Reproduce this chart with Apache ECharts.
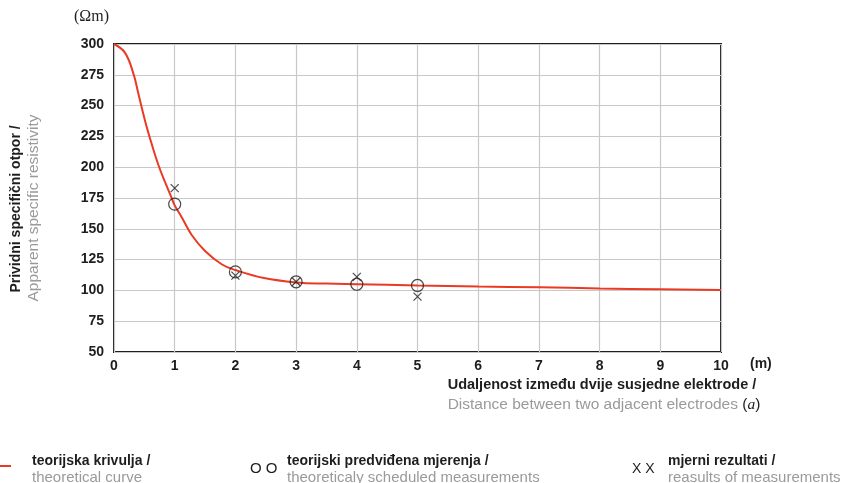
<!DOCTYPE html>
<html>
<head>
<meta charset="utf-8">
<script src="https://cdn.jsdelivr.net/npm/echarts@6/dist/echarts.min.js"></script>
<style>
	html, body { margin: 0; padding: 0; background: #fff; }
	#chart { width: 844px; height: 483px; }
</style>
</head>
<body>
<div id="chart"></div>
<script>
// teorijska krivulja
var curveX = [0, 0.18, 0.32, 0.4, 0.51, 0.62, 0.73, 0.84, 0.95, 1.0, 1.12, 1.28, 1.5, 1.78, 2, 2.47, 3, 3.5, 4, 5, 6, 7, 8, 9, 10];
var curveY = [300, 293, 276, 260, 238, 219, 202, 188, 175, 169, 159, 145, 132, 121, 116.5, 110, 106.5, 105.5, 105, 104, 103.2, 102.5, 101.6, 100.9, 100.3];

// mjerenja
var pointX = [1, 2, 3, 4, 5];
var plannedY = [170, 115, 107, 105, 104];
var measuredY = [183, 112, 107, 111, 95];

var xTicks = ['0', '1', '2', '3', '4', '5', '6', '7', '8', '9', '10'];
var yTicks = ['50', '75', '100', '125', '150', '175', '200', '225', '250', '275', '300'];

function pairs(xs, ys) {
	return xs.map(function (x, i) { return [x, ys[i]]; });
}

var font = '"Liberation Sans", Arial, sans-serif';
var red = '#ea3a24';
var gray = '#9a9a9a';
var ink = '#1e1e1e';

var myChart = echarts.init(document.getElementById('chart'));
option = {
	animation: false,
	grid: {
		left: 114,
		right: 123,
		top: 44,
		bottom: 131,
		show: true,
		borderColor: ink,
		borderWidth: 2
	},
	xAxis: {
		type: 'value',
		min: 0,
		max: 10,
		interval: 1,
		axisLine: { show: false },
		axisTick: { show: false },
		axisLabel: {
			margin: 7,
			fontFamily: font,
			fontSize: 14,
			fontWeight: 'bold',
			color: ink,
			formatter: function (v) { return xTicks[v]; }
		},
		splitLine: { lineStyle: { color: '#c8c8c8', width: 1.2 } }
	},
	yAxis: {
		type: 'value',
		min: 50,
		max: 300,
		interval: 25,
		axisLine: { show: false },
		axisTick: { show: false },
		axisLabel: {
			margin: 10,
			fontFamily: font,
			fontSize: 14,
			fontWeight: 'bold',
			color: ink,
			formatter: function (v) { return yTicks[(v - 50) / 25]; }
		},
		splitLine: { lineStyle: { color: '#c8c8c8', width: 1.2 } }
	},
	series: [{
		name: 'teorijska krivulja',
		type: 'line',
		data: pairs(curveX, curveY),
		smooth: 0.4,
		showSymbol: false,
		lineStyle: { color: red, width: 2 },
		z: 3
	}, {
		name: 'teorijski predviđena mjerenja',
		type: 'scatter',
		data: pairs(pointX, plannedY),
		symbol: 'circle',
		symbolSize: 12,
		itemStyle: { color: 'transparent', borderColor: ink, borderWidth: 1.2 },
		z: 4
	}, {
		name: 'mjerni rezultati',
		type: 'scatter',
		data: pairs(pointX, measuredY),
		symbol: 'path://M0,0L10,10M10,0L0,10',
		symbolSize: 8,
		itemStyle: { color: 'transparent', borderColor: ink, borderWidth: 1.2 },
		z: 5
	}],
	graphic: [
		{ type: 'text', left: 74, top: 9, style: { text: '(Ωm)', font: '16px "Liberation Serif", serif', fill: ink } },
		{ type: 'text', left: 750, top: 357, style: { text: '(m)', font: 'bold 14px ' + font, fill: ink } },
		{
			type: 'text', x: 9, y: 209, rotation: Math.PI / 2,
			style: {
				text: 'Prividni specifični otpor /', font: 'bold 14px ' + font, fill: ink,
				align: 'center', verticalAlign: 'top'
			}
		},
		{
			type: 'text', x: 26, y: 208, rotation: Math.PI / 2,
			style: {
				text: 'Apparent specific resistivity', font: '15.5px ' + font, fill: gray,
				align: 'center', verticalAlign: 'top'
			}
		},
		{
			type: 'text', x: 602, y: 385,
			style: {
				text: 'Udaljenost između dvije susjedne elektrode /', font: 'bold 14.5px ' + font, fill: ink,
				align: 'center', verticalAlign: 'middle'
			}
		},
		{
			type: 'text', x: 604, y: 405,
			style: {
				text: '{g|Distance between two adjacent electrodes }{b|(}{i|a}{b|)}',
				align: 'center', verticalAlign: 'middle',
				rich: {
					g: { font: '15.5px ' + font, fill: gray },
					b: { font: '15.5px ' + font, fill: ink },
					i: { font: 'italic 15.5px "Liberation Serif", serif', fill: ink }
				}
			}
		},
		// legend
		{ type: 'line', shape: { x1: 0, y1: 466, x2: 11, y2: 466 }, style: { stroke: red, lineWidth: 2 } },
		{ type: 'text', left: 32, top: 454, style: { text: 'teorijska krivulja /', font: 'bold 14px ' + font, fill: ink } },
		{ type: 'text', left: 32, top: 470, style: { text: 'theoretical curve', font: '15px ' + font, fill: gray } },
		{ type: 'text', left: 250, top: 461, style: { text: 'O O', font: '15px ' + font, fill: ink } },
		{ type: 'text', left: 287, top: 454, style: { text: 'teorijski predviđena mjerenja /', font: 'bold 14px ' + font, fill: ink } },
		{ type: 'text', left: 287, top: 470, style: { text: 'theoreticaly scheduled measurements', font: '15px ' + font, fill: gray } },
		{ type: 'text', left: 632, top: 462, style: { text: 'X X', font: '14px ' + font, fill: ink } },
		{ type: 'text', left: 668, top: 454, style: { text: 'mjerni rezultati /', font: 'bold 14px ' + font, fill: ink } },
		{ type: 'text', left: 668, top: 470, style: { text: 'reasults of measurements', font: '15px ' + font, fill: gray } }
	]
};
myChart.setOption(option);
</script>
</body>
</html>
